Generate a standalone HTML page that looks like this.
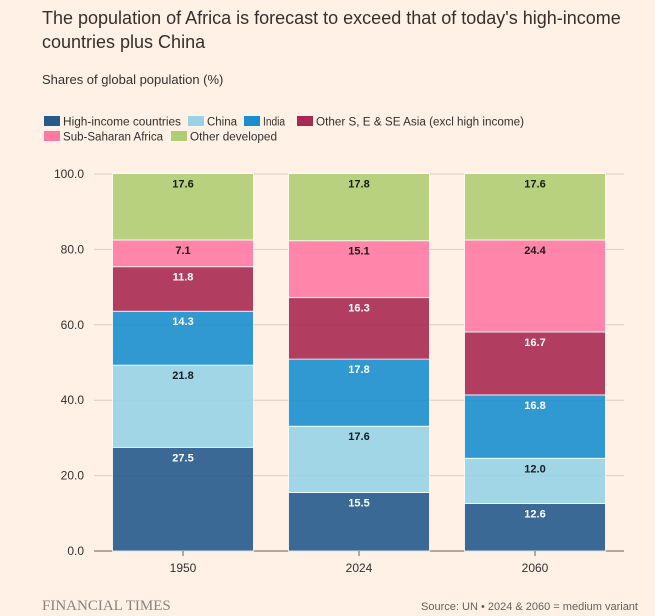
<!DOCTYPE html>
<html><head><meta charset="utf-8">
<style>
body{margin:0;background:#fff1e5;font-family:"Liberation Sans",sans-serif;}
#wrap{position:relative;width:655px;height:616px;overflow:hidden;}
.t{position:absolute;left:42px;color:#33302e;}
</style></head><body>
<div id="wrap">
<div class="t" style="top:6px;font-size:18px;line-height:24px;width:600px;">The population of Africa is forecast to exceed that of today's high-income countries plus China</div>
<div class="t" style="top:72px;font-size:13px;color:#33302e;">Shares of global population (%)</div>
<svg id="chart" width="655" height="616" style="position:absolute;left:0;top:0"></svg>
</div>
<script>
const categories=["1950","2024","2060"];
const seriesNames=["High-income countries","China","India","Other S, E & SE Asia (excl high income)","Sub-Saharan Africa","Other developed"];
const highIncome=[27.5,15.5,12.6];
const china=[21.8,17.6,12.0];
const india=[14.3,17.8,16.8];
const otherAsia=[11.8,16.3,16.7];
const ssa=[7.1,15.1,24.4];
const otherDev=[17.6,17.8,17.6];
const yTicks=[0,20,40,60,80,100];
const series=[highIncome,china,india,otherAsia,ssa,otherDev];
const colors=["#255a8c","#96d3e6","#1a8fcf","#a82a52","#ff7aa3","#afcd72"];
const textCol=["#fff","#1a1a1a","#fff","#fff","#1a1a1a","#1a1a1a"];
const NS="http://www.w3.org/2000/svg";
const svg=document.getElementById('chart');
const y0=551,y1=174,xL=94,xR=624;
const y=v=>y0-(v/100)*(y0-y1);
const bw=141,centers=[183,359,535];
const x=i=>centers[i];
function mk(tag,attrs,txt){const e=document.createElementNS(NS,tag);for(const k in attrs)e.setAttribute(k,attrs[k]);if(txt!==undefined)e.textContent=txt;svg.appendChild(e);return e;}
// legend
const legPos=[[44,116],[188,116],[244,116],[297,116],[44,131],[171,131]];
const legW=[118,30,22,208,100,87];
seriesNames.forEach((n,i)=>{
 const r=mk('rect',{x:legPos[i][0],y:legPos[i][1],width:16,height:10,fill:colors[i]});
 
 
 const t=mk('text',{x:legPos[i][0]+19,y:legPos[i][1]+9.5,'font-size':11.5,fill:'#33302e',textLength:legW[i],lengthAdjust:'spacingAndGlyphs'},n);
 
 
});
// gridlines and ticks
yTicks.forEach(v=>{
 const l=mk('line',{x1:xL,x2:xR,y1:y(v),y2:y(v),stroke:v===0?'#66605c':'#d9cdc3','stroke-width':1});
 
 
 const t=mk('text',{x:84,y:y(v)+4,'font-size':12,'text-anchor':'end',fill:'#33302e'},v.toFixed(1));
 
 
});
// bars
categories.forEach((c,ci)=>{
 let cum=0;
 series.forEach((s,si)=>{
  const v=s[ci];
  const top=y(cum+v),bot=y(cum);
  const r=mk('rect',{x:x(ci)-bw/2,y:top,width:bw,height:bot-top,fill:colors[si],'fill-opacity':0.9,stroke:'#fff','stroke-width':0.8});
  
  
  const lab=mk('text',{x:x(ci),y:top+14,'font-size':11,'font-weight':'bold','text-anchor':'middle',fill:textCol[si]},v.toFixed(1));
  
  
  cum+=v;
 });
 const tk=mk('line',{x1:x(ci),x2:x(ci),y1:y0,y2:y0+5,stroke:'#66605c'});
 
 
 const t=mk('text',{x:x(ci),y:y0+21,'font-size':12,'text-anchor':'middle',fill:'#33302e'},c);
 
 
});
const ft=mk('text',{x:42,y:610,'font-size':15,'font-family':'Liberation Serif, serif',fill:'#8a8380'},'FINANCIAL TIMES');


const src=mk('text',{x:638,y:610,'font-size':11,'text-anchor':'end',fill:'#66605c'},'Source: UN • 2024 & 2060 = medium variant');


</script>
</body></html>
